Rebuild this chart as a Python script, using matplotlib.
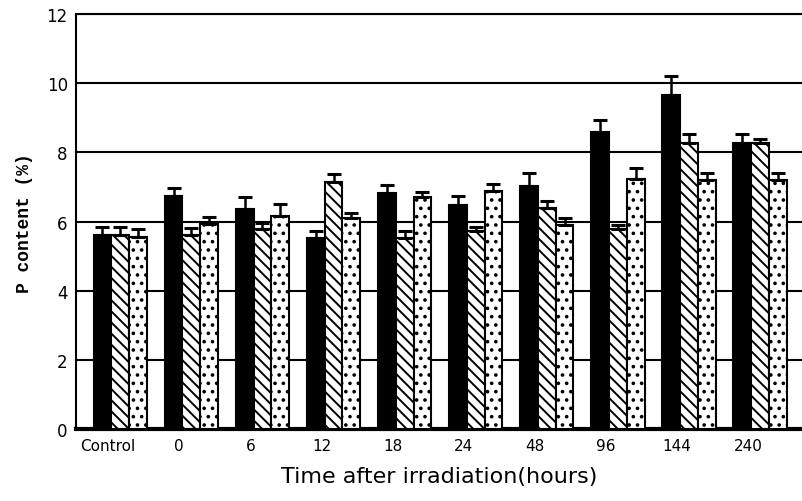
import numpy as np
import matplotlib
matplotlib.use("Agg")
from matplotlib import pyplot as plt

plt.rcParams['hatch.linewidth'] = 1.4

groups = ['Control', '0', '6', '12', '18', '24', '48', '96', '144', '240']
# three series: solid, hatched, dotted
solid = [5.6, 6.73, 6.36, 5.52, 6.82, 6.47, 7.02, 8.58, 9.65, 8.26]
solid_err = [0.25, 0.25, 0.35, 0.2, 0.23, 0.26, 0.4, 0.35, 0.57, 0.27]
hatched = [5.6, 5.6, 5.78, 7.14, 5.52, 5.72, 6.38, 5.78, 8.26, 8.26]
hatched_err = [0.25, 0.22, 0.18, 0.23, 0.2, 0.12, 0.23, 0.12, 0.27, 0.13]
dotted = [5.55, 5.92, 6.16, 6.1, 6.7, 6.88, 5.9, 7.23, 7.2, 7.2]
dotted_err = [0.25, 0.2, 0.35, 0.15, 0.15, 0.2, 0.2, 0.32, 0.2, 0.22]

fig = plt.figure(figsize=(8.02, 5.02), dpi=100)
ax = fig.add_axes([0.095, 0.143, 0.905, 0.827])

x = np.arange(len(groups))
w = 0.25
series = [(solid, solid_err, 'black', ''),
          (hatched, hatched_err, 'white', '\\\\\\'),
          (dotted, dotted_err, 'white', '..')]
for i, (vals, err, fc, hatch) in enumerate(series):
    pos = x + (i - 1) * w
    ax.bar(pos, vals, width=w, color=fc, edgecolor='black', hatch=hatch,
           linewidth=1.5, zorder=3)
    ax.errorbar(pos, vals, yerr=[np.zeros(len(vals)), err], fmt='none',
                ecolor='black', elinewidth=1.8, capsize=5, capthick=2.2,
                zorder=4)

ax.set_ylim(0, 12)
ax.set_xlim(-0.62, 9.59)
ax.set_yticks(range(0, 13, 2))
ax.yaxis.grid(True, color='black', linewidth=1.5, zorder=0)
ax.set_xticks(x - 0.17)
ax.set_xticklabels(groups)
ax.tick_params(axis='x', length=0, pad=6, labelsize=11)
ax.tick_params(axis='y', length=0, pad=6, labelsize=12)

ax.spines['right'].set_visible(False)
ax.spines['left'].set_linewidth(1.5)
ax.spines['top'].set_linewidth(1.5)
ax.spines['bottom'].set_linewidth(3)

ax.set_ylabel('P content (%)', family='Liberation Mono', fontweight='bold',
              fontsize=13, labelpad=10)
ax.set_xlabel('Time after irradiation(hours)', fontsize=16, labelpad=10)

fig.savefig('out.png', dpi=100)
